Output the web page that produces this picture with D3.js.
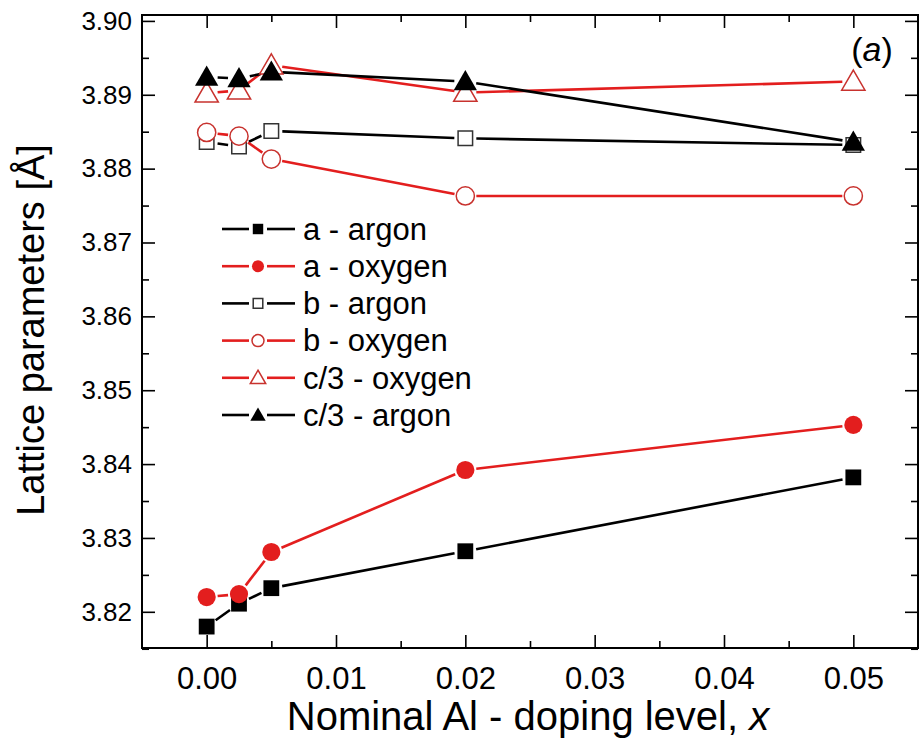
<!DOCTYPE html>
<html>
<head>
<meta charset="utf-8">
<script src="https://cdn.jsdelivr.net/npm/d3@7"></script>
<style>
  body { margin: 0; background: #fff; }
  svg { display: block; font-family: "Liberation Sans", Arial, sans-serif; }
</style>
</head>
<body>
<div id="chart"></div>
<script>
// doping levels
let xValues = [0, 0.0025, 0.005, 0.02, 0.05]

let aArgon    = [3.8180, 3.8211, 3.8232, 3.8282, 3.8382]
let aOxygen   = [3.8220, 3.8224, 3.8281, 3.8392, 3.8453]
let bArgon    = [3.8836, 3.8830, 3.8851, 3.8841, 3.8832]
let bOxygen   = [3.8849, 3.8844, 3.8813, 3.8763, 3.8763]
let cOxygen   = [3.8902, 3.8906, 3.8940, 3.8903, 3.8918]
let cArgon    = [3.8924, 3.8922, 3.8931, 3.8918, 3.8836]

let seriesNames = ['a - argon', 'a - oxygen', 'b - argon', 'b - oxygen', 'c/3 - oxygen', 'c/3 - argon']

let xTicks = [0, 0.01, 0.02, 0.03, 0.04, 0.05]
let yTicks = [3.82, 3.83, 3.84, 3.85, 3.86, 3.87, 3.88, 3.89, 3.90]

const RED = '#e31e1e'
const RED_OPEN = '#c8322e'

let series = [
  { name: seriesNames[0], values: aArgon,  color: '#000', shape: 'square',   filled: true },
  { name: seriesNames[1], values: aOxygen, color: RED,    shape: 'circle',   filled: true },
  { name: seriesNames[2], values: bArgon,  color: '#000', shape: 'square',   filled: false, stroke: '#333' },
  { name: seriesNames[3], values: bOxygen, color: RED,    shape: 'circle',   filled: false, stroke: RED_OPEN },
  { name: seriesNames[4], values: cOxygen, color: RED,    shape: 'triangle', filled: false, stroke: RED_OPEN },
  { name: seriesNames[5], values: cArgon,  color: '#000', shape: 'triangle', filled: true }
]

let W = 919, H = 743
let m = { left: 142, right: 918, top: 15, bottom: 648 }

let svg = d3.select('#chart').append('svg').attr('width', W).attr('height', H)

let x = d3.scaleLinear().domain([-0.005, 0.055]).range([m.left, m.right])
let y = d3.scaleLinear().domain([3.8151, 3.9008]).range([m.bottom, m.top])

let xMinor = d3.range(-0.005, 0.0551, 0.005).filter(function(v){ return Math.abs(Math.round(v / 0.01) * 0.01 - v) > 1e-6 && v > -0.0049 && v < 0.0549 })
let yMinor = d3.range(3.815, 3.9001, 0.005).filter(function(v){ return Math.abs(Math.round(v / 0.01) * 0.01 - v) > 1e-6 })

function styleAxis(size) {
  return function(g) {
    g.select('.domain').remove()
    g.selectAll('line').attr('stroke', '#000').attr('stroke-width', 1.6)
    g.selectAll('text').attr('fill', '#000').style('font-size', size + 'px')
  }
}

// bottom
svg.append('g').attr('transform', 'translate(0,' + m.bottom + ')')
  .call(d3.axisBottom(x).tickValues(xTicks).tickSize(-13).tickPadding(19).tickFormat(d3.format('.2f')))
  .call(styleAxis(31))
svg.append('g').attr('transform', 'translate(0,' + m.bottom + ')')
  .call(d3.axisBottom(x).tickValues(xMinor).tickSize(-7).tickFormat(''))
  .call(styleAxis(31))
// top
svg.append('g').attr('transform', 'translate(0,' + m.top + ')')
  .call(d3.axisTop(x).tickValues(xTicks).tickSize(-13).tickFormat(''))
  .call(styleAxis(31))
svg.append('g').attr('transform', 'translate(0,' + m.top + ')')
  .call(d3.axisTop(x).tickValues(xMinor).tickSize(-7).tickFormat(''))
  .call(styleAxis(31))
// left
svg.append('g').attr('transform', 'translate(' + m.left + ',0)')
  .call(d3.axisLeft(y).tickValues(yTicks).tickSize(-13).tickPadding(10).tickFormat(d3.format('.2f')))
  .call(styleAxis(26))
svg.append('g').attr('transform', 'translate(' + m.left + ',0)')
  .call(d3.axisLeft(y).tickValues(yMinor).tickSize(-7).tickFormat(''))
  .call(styleAxis(26))
// right
svg.append('g').attr('transform', 'translate(' + m.right + ',0)')
  .call(d3.axisRight(y).tickValues(yTicks).tickSize(-13).tickFormat(''))
  .call(styleAxis(26))
svg.append('g').attr('transform', 'translate(' + m.right + ',0)')
  .call(d3.axisRight(y).tickValues(yMinor).tickSize(-7).tickFormat(''))
  .call(styleAxis(26))

// frame
svg.append('rect')
  .attr('x', m.left).attr('y', m.top)
  .attr('width', m.right - m.left).attr('height', m.bottom - m.top)
  .attr('fill', 'none').attr('stroke', '#000').attr('stroke-width', 2)

// marker drawing
let symbolType = { square: d3.symbolSquare, circle: d3.symbolCircle, triangle: d3.symbolTriangle }

function drawMarker(g, s, cx, cy, scale) {
  let size = { square: 250, circle: 260, triangle: 235 }[s.shape]
  if (!s.filled) size = { square: 210, circle: 260, triangle: 235 }[s.shape]
  let yOff = s.shape === 'triangle' ? 2 * scale : 0
  g.append('path')
    .attr('d', d3.symbol().type(symbolType[s.shape]).size(size * scale * scale)())
    .attr('transform', 'translate(' + cx + ',' + (cy + yOff) + ')')
    .attr('fill', s.filled ? s.color : '#fff')
    .attr('stroke', s.filled ? 'none' : s.stroke)
    .attr('stroke-width', s.filled ? 0 : 1.5)
}

// lines with gaps around the symbols
let gap = 11
series.forEach(function(s) {
  let g = svg.append('g')
  for (let i = 0; i < xValues.length - 1; i++) {
    let x0 = x(xValues[i]), y0 = y(s.values[i])
    let x1 = x(xValues[i + 1]), y1 = y(s.values[i + 1])
    let d = Math.hypot(x1 - x0, y1 - y0)
    if (d <= 2 * gap) continue
    let ux = (x1 - x0) / d, uy = (y1 - y0) / d
    g.append('line')
      .attr('x1', x0 + ux * gap).attr('y1', y0 + uy * gap)
      .attr('x2', x1 - ux * gap).attr('y2', y1 - uy * gap)
      .attr('stroke', s.color).attr('stroke-width', 2.6)
  }
})
series.forEach(function(s) {
  let g = svg.append('g')
  xValues.forEach(function(xv, i) {
    drawMarker(g, s, x(xv), y(s.values[i]), 1)
  })
})

// legend
let legend = svg.append('g')
series.forEach(function(s, i) {
  let ly = 229 + i * 37.2
  legend.append('line').attr('x1', 222).attr('x2', 249).attr('y1', ly).attr('y2', ly)
    .attr('stroke', s.color).attr('stroke-width', 2.6)
  legend.append('line').attr('x1', 267).attr('x2', 295).attr('y1', ly).attr('y2', ly)
    .attr('stroke', s.color).attr('stroke-width', 2.6)
  drawMarker(legend, s, 258, ly, 0.66)
  legend.append('text').attr('x', 303).attr('y', ly).attr('dy', '0.35em')
    .style('font-size', '31px').text(s.name)
})

// panel label
svg.append('text').attr('x', 872).attr('y', 61).attr('text-anchor', 'middle')
  .style('font-size', '34px')
  .html('(<tspan font-style="italic">a</tspan>)')

// axis titles
svg.append('text').attr('x', 528).attr('y', 730).attr('text-anchor', 'middle')
  .style('font-size', '40px')
  .html('Nominal Al - doping level, <tspan font-style="italic">x</tspan>')

svg.append('text').attr('transform', 'translate(44,' + 330 + ') rotate(-90)')
  .attr('text-anchor', 'middle').style('font-size', '38px')
  .text('Lattice parameters [Å]')
</script>
</body>
</html>
